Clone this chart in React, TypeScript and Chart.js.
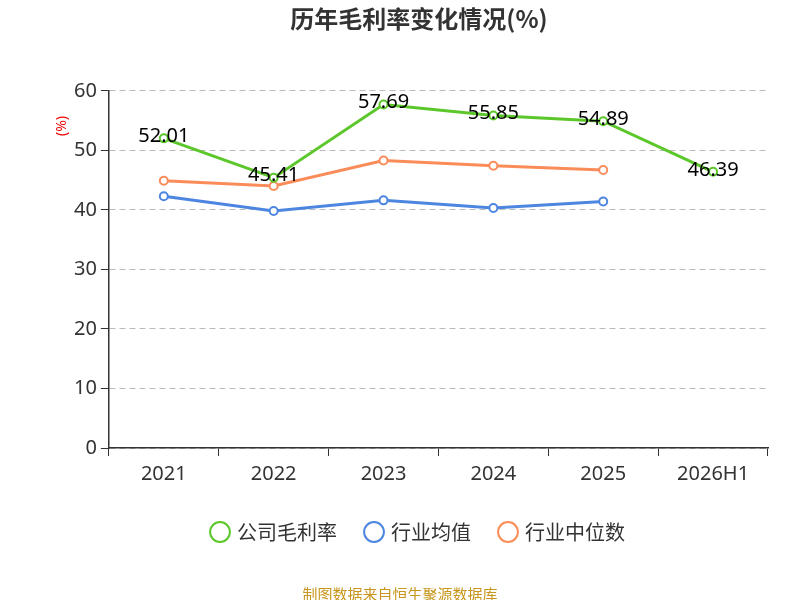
import React, { useEffect, useRef } from "react";
import { Chart, registerables } from "chart.js";
Chart.register(...registerables);

const categories = ["2021", "2022", "2023", "2024", "2025", "2026H1"];
const companyMargin = [52.01, 45.41, 57.69, 55.85, 54.89, 46.39];
const industryAvg = [42.3, 39.8, 41.6, 40.3, 41.4, null];
const industryMedian = [44.9, 44.0, 48.3, 47.4, 46.7, null];
const yTicks = [0, 10, 20, 30, 40, 50, 60];

const labelPlugin = {
  id: "labels",
  afterDatasetsDraw(chart: any) {
    const ctx = chart.ctx;
    const meta = chart.getDatasetMeta(0);
    ctx.save();
    ctx.font = "20px 'Noto Sans', sans-serif";
    ctx.fillStyle = "#000";
    ctx.textAlign = "center";
    ctx.textBaseline = "middle";
    meta.data.forEach((p: any, i: number) => {
      ctx.fillText(companyMargin[i].toFixed(2), p.x, p.y - 2);
    });
    ctx.restore();
  },
};

const yTitlePlugin = {
  id: "ytitle",
  afterDraw(chart: any) {
    const ctx = chart.ctx;
    ctx.save();
    ctx.translate(62, 126);
    ctx.rotate(-Math.PI / 2);
    ctx.font = "14px 'Noto Sans', sans-serif";
    ctx.fillStyle = "#e00";
    ctx.textAlign = "center";
    ctx.textBaseline = "middle";
    ctx.fillText("(%)", 0, 0);
    ctx.restore();
  },
};

export default function App() {
  const ref = useRef<HTMLCanvasElement>(null);
  useEffect(() => {
    const mk = (label: string, data: any, color: string) => ({
      label, data, borderColor: color, backgroundColor: "#fff",
      pointBorderColor: color, pointBackgroundColor: "#fff",
      borderWidth: 3, pointRadius: 4, pointBorderWidth: 2, tension: 0, spanGaps: false,
    });
    const chart = new Chart(ref.current!, {
      type: "line",
      data: {
        labels: categories,
        datasets: [
          mk("公司毛利率", companyMargin, "#5cc72a"),
          mk("行业均值", industryAvg, "#4d86e0"),
          mk("行业中位数", industryMedian, "#fa8c5a"),
        ],
      },
      options: {
        animation: false,
        responsive: false,
        layout: { padding: { left: 70, right: 32, top: 0, bottom: 48 } },
        plugins: {
          title: {
            display: true, text: "历年毛利率变化情况(%)", color: "#333",
            font: { size: 24, weight: "bold", family: "'Noto Sans CJK SC', sans-serif" },
            padding: { top: 4, bottom: 58 },
          },
          legend: {
            position: "bottom",
            labels: {
              usePointStyle: true, pointStyle: "circle", color: "#333",
              font: { size: 20, family: "'Noto Sans CJK SC', sans-serif" },
              padding: 30, boxWidth: 14, boxHeight: 14,
              generateLabels: (c: any) => c.data.datasets.map((d: any, i: number) => ({
                text: d.label, strokeStyle: d.borderColor, fillStyle: "#fff",
                lineWidth: 2, pointStyle: "circle", datasetIndex: i, fontColor: "#333",
              })),
            },
          },
          tooltip: { enabled: false },
        },
        scales: {
          x: {
            offset: true,
            grid: { display: true, offset: true, color: "transparent", tickColor: "#333", tickLength: 8 },
            border: { color: "#333", width: 1.5 },
            ticks: { color: "#333", font: { size: 20, family: "'Noto Sans', sans-serif" }, padding: 6 },
          },
          y: {
            min: 0, max: 60,
            afterBuildTicks: (s: any) => { s.ticks = yTicks.map((v) => ({ value: v })); },
            grid: { color: "#bbb", drawTicks: true, tickColor: "#333", tickLength: 8 },
            border: { color: "#333", width: 1.5, dash: [6, 4] },
            ticks: { color: "#333", font: { size: 20, family: "'Noto Sans', sans-serif" }, padding: 4 },
          },
        },
      },
      plugins: [labelPlugin, yTitlePlugin,
        {
          id: "src",
          afterDraw(c: any) {
            const ctx = c.ctx;
            ctx.save();
            ctx.font = "15px 'Noto Sans CJK SC', sans-serif";
            ctx.fillStyle = "#c8961e";
            ctx.textAlign = "center";
            ctx.fillText("制图数据来自恒生聚源数据库", 400, 594);
            ctx.restore();
          },
        }],
    } as any);
    return () => chart.destroy();
  }, []);
  return <canvas ref={ref} width={800} height={600} style={{ position: "absolute", left: 0, top: 0 }} />;
}
